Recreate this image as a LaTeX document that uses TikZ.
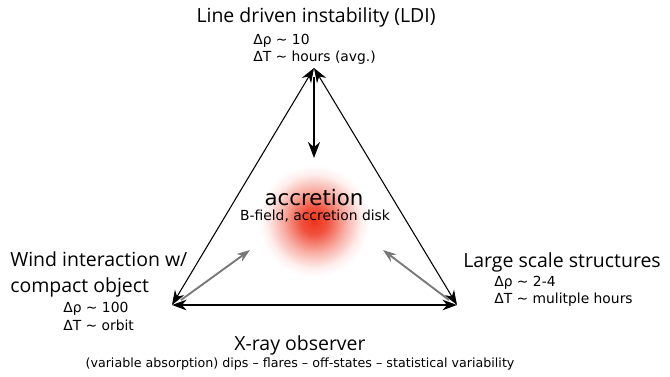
\documentclass[tikz,border=0pt]{standalone}
\usepackage{fontspec}
\setmainfont{DejaVu Sans}
\newfontfamily\titlefont{Open Sans}
\usetikzlibrary{arrows.meta}

\definecolor{glowred}{RGB}{238,52,28}
\definecolor{linkgray}{RGB}{120,120,120}

\pgfdeclareradialshading{glow}{\pgfpoint{0bp}{0bp}}{%
  color(0bp)=(glowred); color(6bp)=(glowred!85!white);
  color(14bp)=(glowred!40!white); color(21bp)=(glowred!8!white);
  color(25bp)=(white); color(50bp)=(white)}

\tikzset{
  side/.style={line width=0.8pt, {Stealth[length=11pt,width=8pt]}-{Stealth[length=11pt,width=8pt]}},
  push/.style={line width=1.5pt, -{Stealth[length=12pt,width=9pt]}},
  link/.style={linkgray, line width=1.4pt, -{Stealth[length=10pt,width=7pt]}},
  title/.style={font=\titlefont\fontsize{14.6}{19}\selectfont, inner sep=0pt},
  small/.style={font=\fontsize{10.4}{13}\selectfont, inner sep=0pt, align=left},
}

\begin{document}
\begin{tikzpicture}[x=0.75pt, y=-0.75pt]
  \useasboundingbox (0,0) rectangle (670,376);

  % glow behind the centre
  \shade[shading=glow] (314,221) circle (56);

  % corners
  \coordinate (top) at (314,68);
  \coordinate (left) at (172,305);
  \coordinate (right) at (457,305);
  \coordinate (topin) at (314,77);
  \coordinate (mid) at (314,158);
  \coordinate (leftfoot) at (181,300);
  \coordinate (leftin) at (250,250);
  \coordinate (rightfoot) at (449,300);
  \coordinate (rightin) at (383,250);

  % triangle
  \draw[side] (top) -- (left);
  \draw[side] (top) -- (right);
  \draw[side] (left) -- (right);

  % towards accretion
  \draw[push] (topin) -- (mid);
  \draw[link] (leftfoot) -- (leftin);
  \draw[link] (rightfoot) -- (rightin);

  % labels
  \node[title] (ldi) at (316,17) {Line driven instability (LDI)};
  \node[small, anchor=west] (ldinum) at (253,49) {Δρ ∼ 10\\ΔT ∼ hours (avg.)};

  \node[title, align=left, anchor=west] (wind) at (10,274.5) {Wind interaction w/\\compact object};
  \node[small, anchor=west] (windnum) at (63,316.5) {Δρ ∼ 100\\ΔT ∼ orbit};

  \node[title, anchor=west] (large) at (463,262) {Large scale structures};
  \node[small, anchor=west] (largenum) at (494,291) {Δρ ∼ 2-4\\ΔT ∼ mulitple hours};

  \node[title] (xray) at (300,345) {X-ray observer};
  \node[small, font=\fontsize{9.5}{13}\selectfont] (xraysub) at (300,364) {(variable absorption) dips -- flares -- off-states -- statistical variability};

  \node[title, font=\fontsize{16}{19}\selectfont] (acc) at (314,198) {accretion};
  \node[small] (accsub) at (315,216) {B-field, accretion disk};
\end{tikzpicture}
\end{document}
